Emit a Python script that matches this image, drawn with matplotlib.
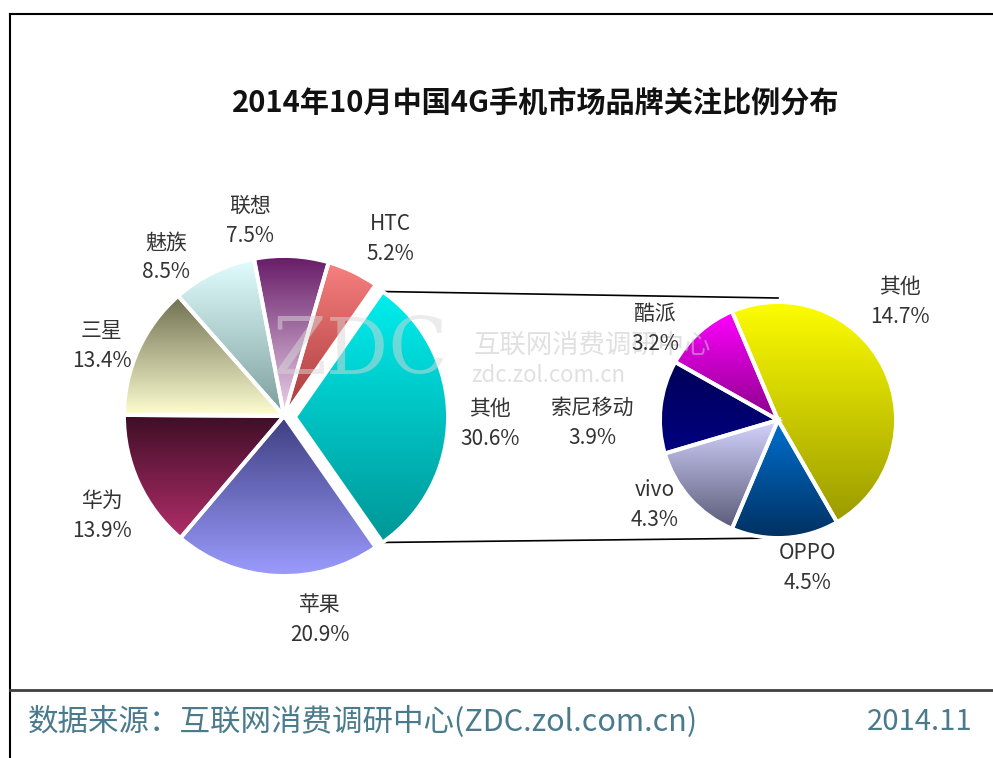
import numpy as np
import matplotlib
matplotlib.use('Agg')
import matplotlib.pyplot as plt
from matplotlib.colors import to_rgb

plt.rcParams['font.family'] = ['Noto Sans CJK SC', 'DejaVu Sans']

title = '2014年10月中国4G手机市场品牌关注比例分布'
main_names = ['其他', 'HTC', '联想', '魅族', '三星', '华为', '苹果']
main_vals = [30.6, 5.2, 7.5, 8.5, 13.4, 13.9, 20.9]
sub_names = ['其他', '酷派', '索尼移动', 'vivo', 'OPPO']
sub_vals = [14.7, 3.2, 3.9, 4.3, 4.5]
source = '数据来源：互联网消费调研中心(ZDC.zol.com.cn)'
date = '2014.11'

# top / bottom colour of each slice's gradient
main_grad = [('#00eeee', '#009696'), ('#f88080', '#a83a3a'), ('#661a66', '#ecd6ec'),
             ('#e2ffff', '#7c9c9c'), ('#6e6e50', '#ffffd2'), ('#3e0e26', '#b22e6a'),
             ('#3e3e80', '#9c9cff')]
sub_grad = [('#ffff00', '#9a9a00'), ('#ff00ff', '#8a008a'), ('#000058', '#000080'),
            ('#d4d4ff', '#5a5a78'), ('#0070d0', '#003060')]

W, H = 993, 758
fig = plt.figure(figsize=(W / 100, H / 100), dpi=100)
ax = fig.add_axes([0, 0, 1, 1])


def py(y):
    # picture pixel row -> data y
    return H - y


c1 = (284, py(416))
r1 = 160
c2 = (778, py(420))
r2 = 118

# label anchor points (pixel coords)
main_label_xy = [(490, 424), (390, 239), (250, 221), (166, 257), (102, 346), (102, 516), (320, 620)]
sub_label_xy = [(900, 302), (655, 329), (592, 423), (655, 505), (808, 568)]


def paint(wedges, grads):
    for w, (top, bot) in zip(wedges, grads):
        verts = w.get_path().vertices
        x0, y0 = verts.min(axis=0)
        x1, y1 = verts.max(axis=0)
        t = np.linspace(0, 1, 256)[:, None]
        img = (1 - t) * np.array(to_rgb(top)) + t * np.array(to_rgb(bot))
        im = ax.imshow(img[:, None, :], extent=(x0, x1, y0, y1), origin='upper',
                       aspect='auto', zorder=1, interpolation='bilinear')
        im.set_clip_path(w)
        w.set_facecolor('none')


wp = dict(edgecolor='white', linewidth=2.8, zorder=2)
start1 = -main_vals[0] / sum(main_vals) * 180
wedges1, _ = ax.pie(main_vals, startangle=start1, counterclock=True, radius=r1,
                    center=c1, wedgeprops=wp)
# pulled-out slice
wedges1[0].set_center((c1[0] + 11, c1[1] - 1))
wedges1[0].set_radius(r1 - 7)
wedges2, _ = ax.pie(sub_vals, startangle=-60, counterclock=True, radius=r2,
                    center=c2, wedgeprops=wp)
paint(wedges1, main_grad)
paint(wedges2, sub_grad)

# lines joining the two pies
w = wedges1[0]
cx, cy = w.center
a1, a2 = np.radians(w.theta1), np.radians(w.theta2)
ax.plot([cx + w.r * np.cos(a2), c2[0]], [cy + w.r * np.sin(a2), c2[1] + r2 + 4],
        color='black', lw=1.2, zorder=0.5)
ax.plot([cx + w.r * np.cos(a1), c2[0]], [cy + w.r * np.sin(a1), c2[1] - r2],
        color='black', lw=1.2, zorder=0.5)

for name, val, (x, y) in zip(main_names, main_vals, main_label_xy):
    ax.text(x, py(y), f'{name}\n{val}%', ha='center', va='center', fontsize=15,
            color='#333333', linespacing=1.45, zorder=5)
for name, val, (x, y) in zip(sub_names, sub_vals, sub_label_xy):
    ax.text(x, py(y), f'{name}\n{val}%', ha='center', va='center', fontsize=15,
            color='#333333', linespacing=1.45, zorder=5)

# watermark
ax.text(360, py(352), 'ZDC', fontsize=56, color='#d8d8d8', alpha=0.5,
        family='DejaVu Serif', ha='center', va='center', zorder=4)
ax.text(592, py(345), '互联网消费调研中心', fontsize=19, color='#c8c8c8', alpha=0.55,
        ha='center', va='center', zorder=4)
ax.text(548, py(376), 'zdc.zol.com.cn', fontsize=16, color='#c8c8c8', alpha=0.55,
        ha='center', va='center', zorder=4)

ax.text(536, py(103), title, ha='center', va='center', fontsize=21,
        fontweight='bold', color='#111111')
ax.text(28, py(722), source, ha='left', va='center', fontsize=22, color='#4a7b8c')
ax.text(972, py(722), date, ha='right', va='center', fontsize=21, color='#4a7b8c')

# frame
ax.plot([10, 10], [py(14), 0], color='black', lw=1.5)
ax.plot([10, W], [py(14), py(14)], color='black', lw=1.5)
ax.plot([10, W], [py(690), py(690)], color='#404040', lw=2)

ax.set_xlim(0, W)
ax.set_ylim(0, H)
ax.set_aspect('auto')
ax.axis('off')
fig.savefig('out.png', dpi=100)
